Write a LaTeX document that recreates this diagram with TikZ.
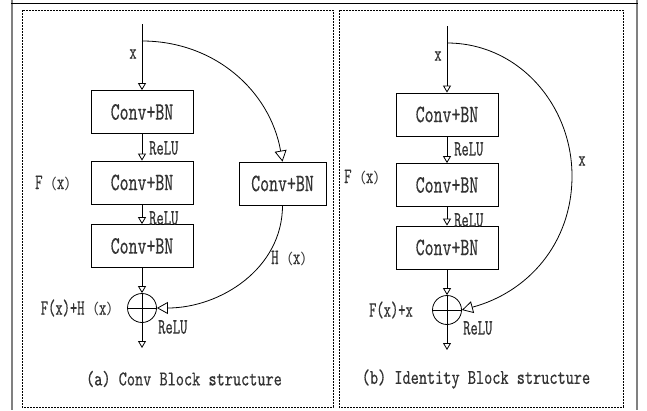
\documentclass[tikz,border=0pt]{standalone}
\usepackage{fontspec}
\usetikzlibrary{arrows.meta}
\newfontfamily\boxfam[FakeStretch=0.68,FakeBold=0.4]{lmmono10-regular.otf}
\newfontfamily\capfam[FakeStretch=0.74,FakeBold=0.4]{lmmono10-regular.otf}
\newfontfamily\lblfam[FakeStretch=0.63,FakeBold=0.4]{lmmono10-regular.otf}
\newfontfamily\cjkfam{Noto Sans CJK SC}
\newcommand\zlp{{\cjkfam\fontsize{14.5}{14.5}\selectfont （}}
\newcommand\zrp{{\cjkfam\fontsize{14.5}{14.5}\selectfont ）}}
\begin{document}
\begin{tikzpicture}[x=1pt,y=-1pt,
 txt/.style={text=black!80},
 blk/.style={draw, line width=0.8pt, minimum width=102pt, minimum height=43pt, inner sep=0pt, font=\boxfam\fontsize{25}{25}\selectfont, txt},
 lbl/.style={inner sep=0pt, font=\lblfam\fontsize{22}{22}\selectfont, txt},
 captxt/.style={inner sep=0pt, font=\capfam\fontsize{21}{21}\selectfont, txt},
 sumnode/.style={draw, circle, line width=0.8pt, minimum size=29pt, inner sep=0pt},
 sarr/.style={-{Triangle[open,length=7pt,width=8pt]}, line width=0.8pt},
 barr/.style={-{Triangle[open,length=11pt,width=12pt]}, line width=0.8pt},
 conn/.style={line width=0.8pt},
 frm/.style={dash pattern=on 2pt off 1pt, line width=0.8pt}]
\useasboundingbox (0,0) rectangle (647,410);
\fill[white] (0,0) rectangle (647,410);
% outer frame
\draw[black!50, line width=2pt] (12,0) -- (12,410);
\draw[black!50, line width=2pt] (637,0) -- (637,410);
\draw[line width=1pt] (11,3.5) -- (638,3.5);
% panel frames
\draw[frm] (22,10) rectangle (333,407);
\draw[frm] (339,10) rectangle (623,407);
% ---------- left panel ----------
\node[blk] (L1) at (142,112) {Conv+BN};
\node[blk] (L2) at (142,182.5) {Conv+BN};
\node[blk] (L3) at (142,246) {Conv+BN};
\node[blk, minimum width=87pt] (LR) at (282.5,183.5) {Conv+BN};
\node[sumnode] (LC) at (142,308) {};
\coordinate (Ltop) at (142,24);
\coordinate (Lbr) at (142,41);
\coordinate (Lend) at (142,348);
\draw[sarr] (Ltop) -- (L1);
\draw[sarr] (L1) -- (L2);
\draw[sarr] (L2) -- (L3);
\draw[sarr] (L3) -- (LC);
\draw[sarr] (LC) -- (Lend);
\draw[conn] (LC.north) -- (LC.south) (LC.west) -- (LC.east);
\draw[barr] (Lbr) to[out=0,in=100] (LR.north);
\draw[barr] (LR.south) to[out=-90,in=0] (LC.east);
\node[lbl] (Lx) at (133,54) {x};
\node[lbl, anchor=west] (Lr1) at (149,148) {ReLU};
\node[lbl, anchor=west] (Lr2) at (149,218) {ReLU};
\node[lbl] (LF) at (57,183) {F\zlp x\zrp};
\node[lbl] (LH) at (293,258) {H\zlp x\zrp};
\node[lbl, anchor=east] (LFH) at (121,308) {F(x)+H\zlp x\zrp};
\node[lbl, anchor=west] (Lr3) at (158,327) {ReLU};
\node[captxt] (Lcap) at (184,379) {(a) Conv Block structure};
% ---------- right panel ----------
\node[blk] (R1) at (447,114.5) {Conv+BN};
\node[blk] (R2) at (447,185) {Conv+BN};
\node[blk] (R3) at (447,247.5) {Conv+BN};
\node[sumnode] (RC) at (447,310) {};
\coordinate (Rtop) at (447,26);
\coordinate (Rbr) at (447,43);
\coordinate (Rend) at (447,350);
\coordinate (Rmid) at (572,176);
\draw[sarr] (Rtop) -- (R1);
\draw[sarr] (R1) -- (R2);
\draw[sarr] (R2) -- (R3);
\draw[sarr] (R3) -- (RC);
\draw[sarr] (RC) -- (Rend);
\draw[conn] (RC.north) -- (RC.south) (RC.west) -- (RC.east);
\draw[barr] (Rbr) to[out=0,in=90] (Rmid) to[out=-90,in=15] (RC.east);
\node[lbl] (Rx) at (438,56) {x};
\node[lbl, anchor=west] (Rr1) at (454,149) {ReLU};
\node[lbl, anchor=west] (Rr2) at (454,220) {ReLU};
\node[lbl] (RF) at (366,177) {F\zlp x\zrp};
\node[lbl] (Rx2) at (582,161) {x};
\node[lbl, anchor=east] (RFx) at (413,310) {F(x)+x};
\node[lbl, anchor=west] (Rr3) at (463,328) {ReLU};
\node[captxt] (Rcap) at (476,379) {(b) Identity Block structure};
\end{tikzpicture}
\end{document}
